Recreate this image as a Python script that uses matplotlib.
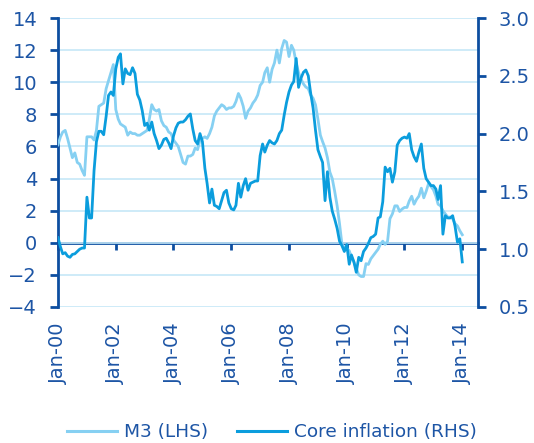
import matplotlib
matplotlib.use("Agg")
import matplotlib.pyplot as plt
import matplotlib.ticker as mticker
import pandas as pd
from matplotlib.lines import Line2D

# ---------------- data (monthly, Jan-2000 .. Jan-2014) ----------------
dates = pd.date_range("2000-01-01", "2014-01-01", freq="MS")

m3_lhs = [
    6.1, 6.6, 6.9, 7.0, 6.5, 5.9, 5.3, 5.6, 5.0, 4.9, 4.5, 4.2,          # 2000
    6.6, 6.6, 6.6, 6.4, 7.0, 8.5, 8.6, 8.7, 9.6, 10.1, 10.6, 11.1,      # 2001
    8.3, 7.7, 7.4, 7.3, 7.2, 6.7, 6.9, 6.8, 6.8, 6.7, 6.7, 6.8,         # 2002
    6.9, 7.0, 7.7, 8.6, 8.3, 8.2, 8.3, 7.6, 7.3, 7.2, 6.9, 6.8,         # 2003
    6.4, 6.2, 6.0, 5.5, 5.0, 4.9, 5.4, 5.4, 5.5, 5.9, 5.8, 6.4,         # 2004
    6.5, 6.6, 6.5, 6.8, 7.2, 7.9, 8.2, 8.4, 8.6, 8.5, 8.3, 8.4,         # 2005
    8.4, 8.5, 8.8, 9.3, 9.0, 8.5, 7.75, 8.2, 8.4, 8.7, 8.9, 9.2,        # 2006
    9.8, 10.0, 10.6, 10.9, 10.0, 10.8, 11.2, 12.0, 11.2, 12.1, 12.6, 12.5,  # 2007
    11.6, 12.3, 12.0, 11.2, 10.6, 10.2, 9.9, 9.7, 9.6, 9.2, 9.0, 8.6,   # 2008
    7.7, 6.7, 6.3, 5.9, 5.3, 4.4, 4.0, 3.2, 2.3, 1.2, -0.1, -0.3,       # 2009
    -0.35, -0.5, -0.9, -1.2, -1.6, -2.0, -2.1, -2.1, -1.3, -1.35, -1.0, -0.8,  # 2010
    -0.6, -0.4, -0.1, 0.1, -0.1, 0.1, 1.5, 1.8, 2.3, 2.3, 1.95, 2.1,    # 2011
    2.2, 2.2, 2.6, 2.9, 2.4, 2.7, 2.9, 3.4, 2.8, 3.2, 3.7, 3.5,         # 2012
    3.3, 2.9, 2.4, 2.3, 2.0, 1.8, 1.6, 1.6, 1.5, 1.2, 1.05, 0.75,       # 2013
    0.5,                                                                # Jan-2014
]

core_rhs = [
    1.10, 1.02, 0.96, 0.97, 0.94, 0.93, 0.955, 0.96, 0.98, 1.00, 1.01, 1.01,   # 2000
    1.45, 1.27, 1.27, 1.68, 1.93, 2.02, 2.02, 1.99, 2.15, 2.33, 2.36, 2.33,    # 2001
    2.56, 2.66, 2.69, 2.43, 2.56, 2.52, 2.51, 2.57, 2.52, 2.34, 2.29, 2.20,    # 2002
    2.07, 2.09, 2.03, 2.10, 2.00, 1.94, 1.87, 1.90, 1.95, 1.96, 1.92, 1.87,    # 2003
    1.98, 2.05, 2.09, 2.10, 2.10, 2.12, 2.15, 2.17, 2.04, 1.94, 1.91, 2.00,    # 2004
    1.93, 1.70, 1.57, 1.40, 1.52, 1.38, 1.37, 1.35, 1.42, 1.49, 1.51, 1.40,    # 2005
    1.35, 1.34, 1.38, 1.57, 1.45, 1.55, 1.61, 1.51, 1.57, 1.58, 1.59, 1.59,    # 2006
    1.81, 1.91, 1.84, 1.90, 1.94, 1.92, 1.91, 1.94, 2.00, 2.03, 2.16, 2.27,    # 2007
    2.36, 2.42, 2.45, 2.65, 2.40, 2.48, 2.53, 2.55, 2.50, 2.35, 2.22, 2.03,    # 2008
    1.86, 1.80, 1.75, 1.42, 1.67, 1.45, 1.33, 1.26, 1.18, 1.07, 1.03, 0.98,    # 2009
    1.04, 0.87, 0.95, 0.89, 0.80, 0.93, 0.90, 0.98, 1.01, 1.05, 1.10, 1.11,    # 2010
    1.13, 1.27, 1.28, 1.41, 1.71, 1.67, 1.70, 1.58, 1.67, 1.90, 1.94, 1.96,    # 2011
    1.97, 1.96, 2.00, 1.86, 1.80, 1.76, 1.84, 1.91, 1.70, 1.61, 1.58, 1.55,    # 2012
    1.55, 1.52, 1.43, 1.55, 1.13, 1.29, 1.27, 1.27, 1.29, 1.20, 1.06, 1.09,    # 2013
    0.89,                                                                      # Jan-2014
]

left_ticks = [-4, -2, 0, 2, 4, 6, 8, 10, 12, 14]
right_ticks = [0.5, 1.0, 1.5, 2.0, 2.5, 3.0]
x_tick_years = [2000, 2002, 2004, 2006, 2008, 2010, 2012, 2014]
series_labels = ["M3 (LHS)", "Core inflation (RHS)"]

# ---------------- style ----------------
DARK = "#0d4ea0"
TEXT = "#1d55a5"
GRID = "#c6e8f7"
M3_COL = "#86d0f2"
CORE_COL = "#0b9ddd"
FONT = "DejaVu Sans"
FS = 14

plt.rcParams["font.family"] = [FONT]

fig = plt.figure(figsize=(5.34, 4.43), dpi=100)
ax = fig.add_axes([58 / 534, 1 - 307 / 443, (477.7 - 58) / 534, (307 - 18) / 443])

ax.plot(dates, m3_lhs, color=M3_COL, lw=2.0, zorder=3, solid_joinstyle="round")
ax.set_ylim(-4, 14)
ax.set_yticks(left_ticks)
ax.grid(axis="y", color=GRID, lw=1.2, zorder=0)
ax.set_axisbelow(True)

xmin = pd.Timestamp("2000-01-01")
xmax = pd.Timestamp("2014-07-15")
ax.set_xlim(xmin, xmax)
xt = [pd.Timestamp(f"{y}-01-01") for y in x_tick_years]
ax.set_xticks(xt)
ax.set_xticklabels([t.strftime("Jan-%y") for t in xt], rotation=90,
                   fontsize=14, color=TEXT)
ax.tick_params(axis="x", length=0, pad=11)
ax.tick_params(axis="y", direction="out", length=6, width=2, color=DARK,
               labelsize=FS, labelcolor=TEXT, pad=9)

for s in ["top", "bottom", "right"]:
    ax.spines[s].set_visible(False)
ax.spines["left"].set_color(DARK)
ax.spines["left"].set_linewidth(2)

# zero axis line with tick marks
sec = ax.secondary_xaxis(0, transform=ax.transData)
sec.set_xticks(xt)
sec.set_xticklabels([""] * len(xt))
sec.tick_params(axis="x", direction="out", length=5, width=2, color=DARK)
sec.spines["bottom"].set_color(DARK)
sec.spines["bottom"].set_linewidth(2)

ax2 = ax.twinx()
ax2.plot(dates, core_rhs, color=CORE_COL, lw=2.0, zorder=3, solid_joinstyle="round")
ax2.set_ylim(0.5, 3.0)
ax2.set_yticks(right_ticks)
ax2.yaxis.set_major_formatter(mticker.FormatStrFormatter("%.1f"))
ax2.tick_params(axis="y", direction="out", length=6, width=2, color=DARK,
                labelsize=FS, labelcolor=TEXT, pad=9)
for s in ["top", "bottom", "left"]:
    ax2.spines[s].set_visible(False)
ax2.spines["right"].set_color(DARK)
ax2.spines["right"].set_linewidth(2)
ax2.set_xlim(xmin, xmax)

handles = [Line2D([], [], color=M3_COL, lw=2.2),
           Line2D([], [], color=CORE_COL, lw=2.2)]
leg = fig.legend(handles, series_labels, loc="center",
                 bbox_to_anchor=(272 / 534, 1 - 432 / 443),
                 ncol=2, frameon=False, fontsize=13.3, handlelength=2.7,
                 handletextpad=0.35, columnspacing=1.6, borderpad=0)
for t in leg.get_texts():
    t.set_color(TEXT)

fig.savefig("out.png", dpi=100)
